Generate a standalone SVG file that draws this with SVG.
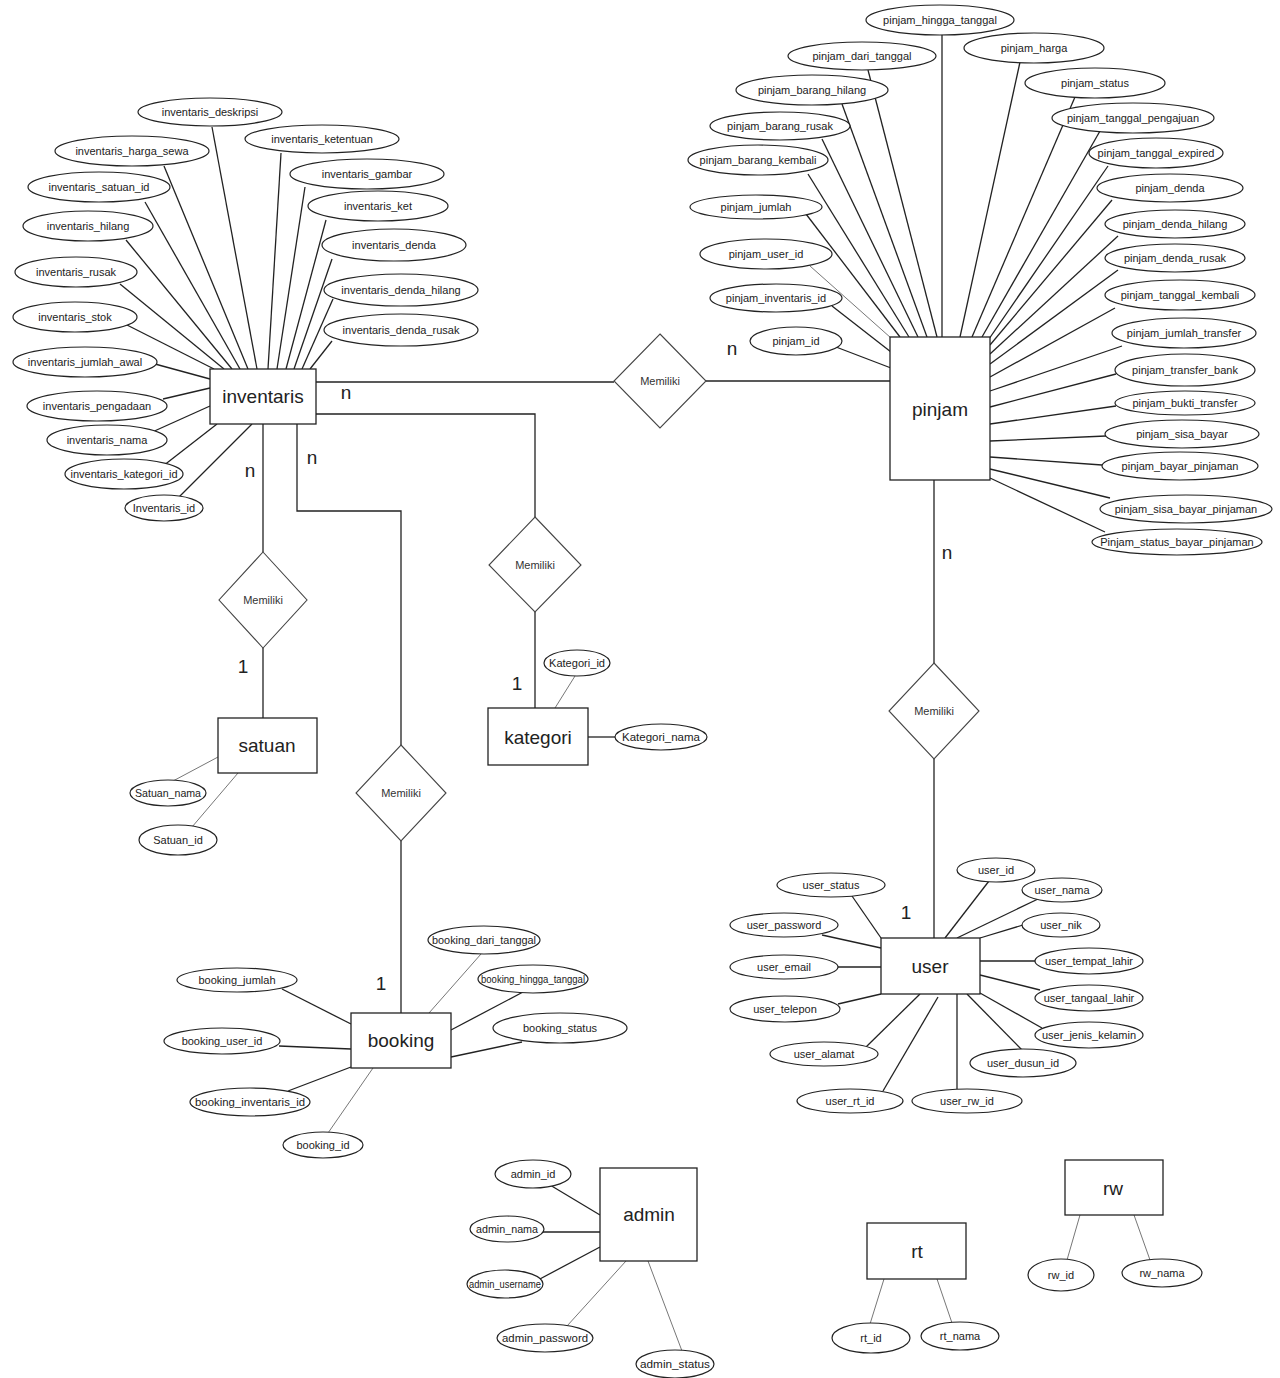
<svg xmlns="http://www.w3.org/2000/svg" width="1280" height="1378" viewBox="0 0 1280 1378">
<style>
  .bg { fill: #ffffff; }
  .conn line, .conn polyline { stroke: #222; stroke-width: 1.3; fill: none; }
  .conn .thin { stroke: #777; stroke-width: 1; }
  .attr ellipse, .node ellipse { fill: #fff; stroke: #222; stroke-width: 1.2; }
  .node rect { fill: #fff; stroke: #222; stroke-width: 1.3; }
  .node polygon { fill: #fff; stroke: #444; stroke-width: 1.1; }
  text { font-family: "Liberation Sans", Arial, sans-serif; fill: #222; text-anchor: middle; dominant-baseline: central; }
  .a { font-size: 11px; }
  .e { font-size: 19px; }
  .r { font-size: 11px; fill: #333; }
  .c { font-size: 19px; }
</style>
<rect class="bg" x="0" y="0" width="1280" height="1378"/>

<g id="connectors" class="conn">
  <!-- relationships -->
  <line x1="316" y1="382" x2="614" y2="382"/>
  <line x1="706" y1="381" x2="890" y2="381"/>
  <polyline points="316,414 535,414 535,517"/>
  <line x1="535" y1="612" x2="535" y2="708"/>
  <line x1="263" y1="424" x2="263" y2="552"/>
  <line x1="263" y1="648" x2="263" y2="718"/>
  <polyline points="297,424 297,511 401,511 401,745"/>
  <line x1="401" y1="841" x2="401" y2="1013"/>
  <line x1="934" y1="480" x2="934" y2="663"/>
  <line x1="934" y1="759" x2="934" y2="938"/>
  <!-- inventaris attributes -->
  <line x1="212" y1="127" x2="257" y2="369"/>
  <line x1="164" y1="166" x2="248" y2="369"/>
  <line x1="145" y1="202" x2="240" y2="369"/>
  <line x1="126" y1="240" x2="232" y2="369"/>
  <line x1="120" y1="284" x2="224" y2="369"/>
  <line x1="127" y1="325" x2="214" y2="369"/>
  <line x1="281" y1="153" x2="268" y2="369"/>
  <line x1="305" y1="187" x2="277" y2="369"/>
  <line x1="326" y1="220" x2="286" y2="369"/>
  <line x1="332" y1="259" x2="294" y2="369"/>
  <line x1="333" y1="299" x2="302" y2="369"/>
  <line x1="332" y1="341" x2="310" y2="369"/>
  <line x1="155" y1="364" x2="210" y2="379"/>
  <line x1="163" y1="399" x2="210" y2="388"/>
  <line x1="150" y1="433" x2="210" y2="406"/>
  <line x1="163" y1="466" x2="217" y2="424"/>
  <line x1="178" y1="498" x2="252" y2="424"/>
  <!-- pinjam attributes -->
  <line x1="942" y1="34" x2="942" y2="337"/>
  <line x1="868" y1="70" x2="937" y2="337"/>
  <line x1="842" y1="104" x2="927" y2="337"/>
  <line x1="822" y1="139" x2="918" y2="337"/>
  <line x1="808" y1="174" x2="909" y2="337"/>
  <line x1="806" y1="214" x2="900" y2="337"/>
  <line class="thin" x1="810" y1="266" x2="891" y2="338"/>
  <line x1="832" y1="306" x2="891" y2="352"/>
  <line x1="836" y1="347" x2="891" y2="368"/>
  <line x1="1020" y1="62" x2="960" y2="337"/>
  <line x1="1075" y1="97" x2="972" y2="337"/>
  <line x1="1100" y1="131" x2="982" y2="337"/>
  <line x1="1108" y1="166" x2="989" y2="339"/>
  <line x1="1112" y1="200" x2="990" y2="345"/>
  <line x1="1118" y1="236" x2="990" y2="354"/>
  <line x1="1118" y1="270" x2="990" y2="364"/>
  <line x1="1115" y1="308" x2="990" y2="377"/>
  <line x1="1122" y1="346" x2="990" y2="391"/>
  <line x1="1116" y1="374" x2="990" y2="407"/>
  <line x1="1116" y1="406" x2="990" y2="424"/>
  <line x1="1106" y1="436" x2="990" y2="441"/>
  <line x1="1102" y1="465" x2="990" y2="457"/>
  <line x1="1110" y1="498" x2="990" y2="469"/>
  <line x1="1105" y1="532" x2="990" y2="478"/>
  <!-- satuan -->
  <line class="thin" x1="173" y1="781" x2="218" y2="757"/>
  <line class="thin" x1="192" y1="827" x2="238" y2="773"/>
  <!-- kategori -->
  <line class="thin" x1="575" y1="676" x2="555" y2="708"/>
  <line x1="588" y1="737" x2="615" y2="737"/>
  <!-- booking -->
  <line class="thin" x1="481" y1="954" x2="429" y2="1013"/>
  <line x1="523" y1="992" x2="451" y2="1030"/>
  <line x1="522" y1="1042" x2="451" y2="1057"/>
  <line x1="282" y1="989" x2="351" y2="1024"/>
  <line x1="279" y1="1046" x2="351" y2="1049"/>
  <line x1="288" y1="1091" x2="351" y2="1067"/>
  <line class="thin" x1="328" y1="1133" x2="373" y2="1068"/>
  <!-- user -->
  <line x1="989" y1="881" x2="945" y2="938"/>
  <line x1="1038" y1="899" x2="957" y2="938"/>
  <line x1="1023" y1="925" x2="980" y2="938"/>
  <line x1="980" y1="961" x2="1036" y2="961"/>
  <line x1="980" y1="975" x2="1040" y2="990"/>
  <line x1="980" y1="993" x2="1042" y2="1028"/>
  <line x1="967" y1="994" x2="1022" y2="1050"/>
  <line x1="957" y1="994" x2="957" y2="1089"/>
  <line x1="938" y1="997" x2="883" y2="1091"/>
  <line x1="920" y1="994" x2="866" y2="1047"/>
  <line x1="881" y1="994" x2="838" y2="1004"/>
  <line x1="837" y1="967" x2="881" y2="967"/>
  <line x1="822" y1="935" x2="881" y2="948"/>
  <line x1="852" y1="896" x2="881" y2="938"/>
  <!-- admin -->
  <line x1="550" y1="1185" x2="600" y2="1215"/>
  <line x1="543" y1="1232" x2="600" y2="1232"/>
  <line x1="538" y1="1280" x2="600" y2="1247"/>
  <line class="thin" x1="567" y1="1326" x2="626" y2="1261"/>
  <line class="thin" x1="682" y1="1351" x2="648" y2="1261"/>
  <!-- rt / rw -->
  <line class="thin" x1="884" y1="1279" x2="870" y2="1324"/>
  <line class="thin" x1="937" y1="1279" x2="952" y2="1323"/>
  <line class="thin" x1="1080" y1="1215" x2="1067" y2="1260"/>
  <line class="thin" x1="1134" y1="1215" x2="1150" y2="1260"/>
</g>

<!-- entities -->
<g id="inventaris" class="node"><rect x="210" y="369" width="106" height="55"/><text class="e" x="263" y="396">inventaris</text></g>
<g id="pinjam" class="node"><rect x="890" y="337" width="100" height="143"/><text class="e" x="940" y="409">pinjam</text></g>
<g id="satuan" class="node"><rect x="218" y="718" width="99" height="55"/><text class="e" x="267" y="745">satuan</text></g>
<g id="kategori" class="node"><rect x="488" y="708" width="100" height="57"/><text class="e" x="538" y="737">kategori</text></g>
<g id="booking" class="node"><rect x="351" y="1013" width="100" height="55"/><text class="e" x="401" y="1040">booking</text></g>
<g id="user" class="node"><rect x="881" y="938" width="99" height="56"/><text class="e" x="930" y="966">user</text></g>
<g id="admin" class="node"><rect x="600" y="1168" width="97" height="93"/><text class="e" x="649" y="1214">admin</text></g>
<g id="rt" class="node"><rect x="867" y="1223" width="99" height="56"/><text class="e" x="917" y="1251">rt</text></g>
<g id="rw" class="node"><rect x="1065" y="1160" width="98" height="55"/><text class="e" x="1113" y="1188">rw</text></g>

<!-- relationships -->
<g id="rel-inventaris-pinjam" class="node"><polygon points="660,334 706,381 660,428 614,381"/><text class="r" x="660" y="381">Memiliki</text></g>
<g id="rel-inventaris-satuan" class="node"><polygon points="263,552 307,600 263,648 219,600"/><text class="r" x="263" y="600">Memiliki</text></g>
<g id="rel-inventaris-kategori" class="node"><polygon points="535,517 581,565 535,612 489,565"/><text class="r" x="535" y="565">Memiliki</text></g>
<g id="rel-inventaris-booking" class="node"><polygon points="401,745 446,793 401,841 356,793"/><text class="r" x="401" y="793">Memiliki</text></g>
<g id="rel-pinjam-user" class="node"><polygon points="934,663 979,711 934,759 889,711"/><text class="r" x="934" y="711">Memiliki</text></g>

<!-- cardinalities -->
<g id="cardinalities">
  <text class="c" x="346" y="392">n</text>
  <text class="c" x="312" y="457">n</text>
  <text class="c" x="250" y="470">n</text>
  <text class="c" x="732" y="348">n</text>
  <text class="c" x="947" y="552">n</text>
  <text class="c" x="243" y="666">1</text>
  <text class="c" x="517" y="683">1</text>
  <text class="c" x="381" y="983">1</text>
  <text class="c" x="906" y="912">1</text>
</g>

<!-- inventaris attributes -->
<g id="attr-inventaris_deskripsi" class="attr"><ellipse cx="210" cy="112" rx="72" ry="14"/><text class="a" x="210" y="112">inventaris_deskripsi</text></g>
<g id="attr-inventaris_ketentuan" class="attr"><ellipse cx="322" cy="139" rx="77" ry="14"/><text class="a" x="322" y="139">inventaris_ketentuan</text></g>
<g id="attr-inventaris_harga_sewa" class="attr"><ellipse cx="132" cy="151" rx="77" ry="15"/><text class="a" x="132" y="151">inventaris_harga_sewa</text></g>
<g id="attr-inventaris_gambar" class="attr"><ellipse cx="367" cy="174" rx="77" ry="15"/><text class="a" x="367" y="174">inventaris_gambar</text></g>
<g id="attr-inventaris_satuan_id" class="attr"><ellipse cx="99" cy="187" rx="71" ry="15"/><text class="a" x="99" y="187">inventaris_satuan_id</text></g>
<g id="attr-inventaris_ket" class="attr"><ellipse cx="378" cy="206" rx="70" ry="15"/><text class="a" x="378" y="206">inventaris_ket</text></g>
<g id="attr-inventaris_hilang" class="attr"><ellipse cx="88" cy="226" rx="65" ry="15"/><text class="a" x="88" y="226">inventaris_hilang</text></g>
<g id="attr-inventaris_denda" class="attr"><ellipse cx="394" cy="245" rx="72" ry="16"/><text class="a" x="394" y="245">inventaris_denda</text></g>
<g id="attr-inventaris_rusak" class="attr"><ellipse cx="76" cy="272" rx="61" ry="15"/><text class="a" x="76" y="272">inventaris_rusak</text></g>
<g id="attr-inventaris_denda_hilang" class="attr"><ellipse cx="401" cy="290" rx="77" ry="16"/><text class="a" x="401" y="290">inventaris_denda_hilang</text></g>
<g id="attr-inventaris_stok" class="attr"><ellipse cx="75" cy="317" rx="62" ry="15"/><text class="a" x="75" y="317">inventaris_stok</text></g>
<g id="attr-inventaris_denda_rusak" class="attr"><ellipse cx="401" cy="330" rx="77" ry="16"/><text class="a" x="401" y="330">inventaris_denda_rusak</text></g>
<g id="attr-inventaris_jumlah_awal" class="attr"><ellipse cx="85" cy="362" rx="72" ry="15"/><text class="a" x="85" y="362">inventaris_jumlah_awal</text></g>
<g id="attr-inventaris_pengadaan" class="attr"><ellipse cx="97" cy="406" rx="70" ry="15"/><text class="a" x="97" y="406">inventaris_pengadaan</text></g>
<g id="attr-inventaris_nama" class="attr"><ellipse cx="107" cy="440" rx="60" ry="15"/><text class="a" x="107" y="440">inventaris_nama</text></g>
<g id="attr-inventaris_kategori_id" class="attr"><ellipse cx="124" cy="474" rx="59" ry="15"/><text class="a" x="124" y="474">inventaris_kategori_id</text></g>
<g id="attr-inventaris_id" class="attr"><ellipse cx="164" cy="508" rx="39" ry="13"/><text class="a" x="164" y="508">Inventaris_id</text></g>

<!-- pinjam attributes -->
<g id="attr-pinjam_hingga_tanggal" class="attr"><ellipse cx="940" cy="20" rx="74" ry="15"/><text class="a" x="940" y="20">pinjam_hingga_tanggal</text></g>
<g id="attr-pinjam_dari_tanggal" class="attr"><ellipse cx="862" cy="56" rx="74" ry="14"/><text class="a" x="862" y="56">pinjam_dari_tanggal</text></g>
<g id="attr-pinjam_harga" class="attr"><ellipse cx="1034" cy="48" rx="70" ry="15"/><text class="a" x="1034" y="48">pinjam_harga</text></g>
<g id="attr-pinjam_barang_hilang" class="attr"><ellipse cx="812" cy="90" rx="76" ry="15"/><text class="a" x="812" y="90">pinjam_barang_hilang</text></g>
<g id="attr-pinjam_status" class="attr"><ellipse cx="1095" cy="83" rx="70" ry="15"/><text class="a" x="1095" y="83">pinjam_status</text></g>
<g id="attr-pinjam_barang_rusak" class="attr"><ellipse cx="780" cy="126" rx="70" ry="14"/><text class="a" x="780" y="126">pinjam_barang_rusak</text></g>
<g id="attr-pinjam_tanggal_pengajuan" class="attr"><ellipse cx="1133" cy="118" rx="81" ry="15"/><text class="a" x="1133" y="118">pinjam_tanggal_pengajuan</text></g>
<g id="attr-pinjam_barang_kembali" class="attr"><ellipse cx="758" cy="160" rx="70" ry="15"/><text class="a" x="758" y="160">pinjam_barang_kembali</text></g>
<g id="attr-pinjam_tanggal_expired" class="attr"><ellipse cx="1156" cy="153" rx="67" ry="15"/><text class="a" x="1156" y="153">pinjam_tanggal_expired</text></g>
<g id="attr-pinjam_denda" class="attr"><ellipse cx="1170" cy="188" rx="73" ry="14"/><text class="a" x="1170" y="188">pinjam_denda</text></g>
<g id="attr-pinjam_jumlah" class="attr"><ellipse cx="756" cy="207" rx="66" ry="12"/><text class="a" x="756" y="207">pinjam_jumlah</text></g>
<g id="attr-pinjam_denda_hilang" class="attr"><ellipse cx="1175" cy="224" rx="70" ry="14"/><text class="a" x="1175" y="224">pinjam_denda_hilang</text></g>
<g id="attr-pinjam_user_id" class="attr"><ellipse cx="766" cy="254" rx="66" ry="15"/><text class="a" x="766" y="254">pinjam_user_id</text></g>
<g id="attr-pinjam_denda_rusak" class="attr"><ellipse cx="1175" cy="258" rx="70" ry="14"/><text class="a" x="1175" y="258">pinjam_denda_rusak</text></g>
<g id="attr-pinjam_inventaris_id" class="attr"><ellipse cx="776" cy="298" rx="66" ry="14"/><text class="a" x="776" y="298">pinjam_inventaris_id</text></g>
<g id="attr-pinjam_tanggal_kembali" class="attr"><ellipse cx="1180" cy="295" rx="75" ry="15"/><text class="a" x="1180" y="295">pinjam_tanggal_kembali</text></g>
<g id="attr-pinjam_id" class="attr"><ellipse cx="796" cy="341" rx="46" ry="14"/><text class="a" x="796" y="341">pinjam_id</text></g>
<g id="attr-pinjam_jumlah_transfer" class="attr"><ellipse cx="1184" cy="333" rx="72" ry="15"/><text class="a" x="1184" y="333">pinjam_jumlah_transfer</text></g>
<g id="attr-pinjam_transfer_bank" class="attr"><ellipse cx="1185" cy="370" rx="70" ry="16"/><text class="a" x="1185" y="370">pinjam_transfer_bank</text></g>
<g id="attr-pinjam_bukti_transfer" class="attr"><ellipse cx="1185" cy="403" rx="70" ry="12"/><text class="a" x="1185" y="403">pinjam_bukti_transfer</text></g>
<g id="attr-pinjam_sisa_bayar" class="attr"><ellipse cx="1182" cy="434" rx="77" ry="14"/><text class="a" x="1182" y="434">pinjam_sisa_bayar</text></g>
<g id="attr-pinjam_bayar_pinjaman" class="attr"><ellipse cx="1180" cy="466" rx="78" ry="14"/><text class="a" x="1180" y="466">pinjam_bayar_pinjaman</text></g>
<g id="attr-pinjam_sisa_bayar_pinjaman" class="attr"><ellipse cx="1186" cy="509" rx="86" ry="14"/><text class="a" x="1186" y="509">pinjam_sisa_bayar_pinjaman</text></g>
<g id="attr-pinjam_status_bayar_pinjaman" class="attr"><ellipse cx="1177" cy="542" rx="85" ry="13"/><text class="a" x="1177" y="542">Pinjam_status_bayar_pinjaman</text></g>

<!-- satuan / kategori attributes -->
<g id="attr-satuan_nama" class="attr"><ellipse cx="168" cy="793" rx="38" ry="13"/><text class="a" x="168" y="793" textLength="66" lengthAdjust="spacingAndGlyphs">Satuan_nama</text></g>
<g id="attr-satuan_id" class="attr"><ellipse cx="178" cy="840" rx="39" ry="15"/><text class="a" x="178" y="840">Satuan_id</text></g>
<g id="attr-kategori_id" class="attr"><ellipse cx="577" cy="663" rx="33" ry="13"/><text class="a" x="577" y="663" textLength="56" lengthAdjust="spacingAndGlyphs">Kategori_id</text></g>
<g id="attr-kategori_nama" class="attr"><ellipse cx="661" cy="737" rx="46" ry="13"/><text class="a" x="661" y="737" textLength="78" lengthAdjust="spacingAndGlyphs">Kategori_nama</text></g>

<!-- booking attributes -->
<g id="attr-booking_dari_tanggal" class="attr"><ellipse cx="484" cy="940" rx="56" ry="14"/><text class="a" x="484" y="940" textLength="104" lengthAdjust="spacingAndGlyphs">booking_dari_tanggal</text></g>
<g id="attr-booking_hingga_tanggal" class="attr"><ellipse cx="533" cy="979" rx="55" ry="14"/><text class="a" x="533" y="979" textLength="104" lengthAdjust="spacingAndGlyphs">booking_hingga_tanggal</text></g>
<g id="attr-booking_status" class="attr"><ellipse cx="560" cy="1028" rx="67" ry="15"/><text class="a" x="560" y="1028">booking_status</text></g>
<g id="attr-booking_jumlah" class="attr"><ellipse cx="237" cy="980" rx="60" ry="12"/><text class="a" x="237" y="980">booking_jumlah</text></g>
<g id="attr-booking_user_id" class="attr"><ellipse cx="222" cy="1041" rx="58" ry="13"/><text class="a" x="222" y="1041">booking_user_id</text></g>
<g id="attr-booking_inventaris_id" class="attr"><ellipse cx="250" cy="1102" rx="60" ry="14"/><text class="a" x="250" y="1102" textLength="110" lengthAdjust="spacingAndGlyphs">booking_inventaris_id</text></g>
<g id="attr-booking_id" class="attr"><ellipse cx="323" cy="1145" rx="40" ry="13"/><text class="a" x="323" y="1145">booking_id</text></g>

<!-- user attributes -->
<g id="attr-user_id" class="attr"><ellipse cx="996" cy="870" rx="39" ry="12"/><text class="a" x="996" y="870">user_id</text></g>
<g id="attr-user_nama" class="attr"><ellipse cx="1062" cy="890" rx="40" ry="12"/><text class="a" x="1062" y="890">user_nama</text></g>
<g id="attr-user_nik" class="attr"><ellipse cx="1061" cy="925" rx="39" ry="12"/><text class="a" x="1061" y="925">user_nik</text></g>
<g id="attr-user_tempat_lahir" class="attr"><ellipse cx="1089" cy="961" rx="54" ry="13"/><text class="a" x="1089" y="961">user_tempat_lahir</text></g>
<g id="attr-user_tangaal_lahir" class="attr"><ellipse cx="1089" cy="998" rx="54" ry="13"/><text class="a" x="1089" y="998">user_tangaal_lahir</text></g>
<g id="attr-user_jenis_kelamin" class="attr"><ellipse cx="1089" cy="1035" rx="54" ry="13"/><text class="a" x="1089" y="1035">user_jenis_kelamin</text></g>
<g id="attr-user_dusun_id" class="attr"><ellipse cx="1023" cy="1063" rx="53" ry="14"/><text class="a" x="1023" y="1063">user_dusun_id</text></g>
<g id="attr-user_rw_id" class="attr"><ellipse cx="967" cy="1101" rx="55" ry="12"/><text class="a" x="967" y="1101">user_rw_id</text></g>
<g id="attr-user_rt_id" class="attr"><ellipse cx="850" cy="1101" rx="53" ry="12"/><text class="a" x="850" y="1101">user_rt_id</text></g>
<g id="attr-user_alamat" class="attr"><ellipse cx="824" cy="1054" rx="54" ry="12"/><text class="a" x="824" y="1054">user_alamat</text></g>
<g id="attr-user_telepon" class="attr"><ellipse cx="785" cy="1009" rx="55" ry="13"/><text class="a" x="785" y="1009">user_telepon</text></g>
<g id="attr-user_email" class="attr"><ellipse cx="784" cy="967" rx="54" ry="12"/><text class="a" x="784" y="967">user_email</text></g>
<g id="attr-user_password" class="attr"><ellipse cx="784" cy="925" rx="54" ry="12"/><text class="a" x="784" y="925">user_password</text></g>
<g id="attr-user_status" class="attr"><ellipse cx="831" cy="885" rx="54" ry="12"/><text class="a" x="831" y="885">user_status</text></g>

<!-- admin attributes -->
<g id="attr-admin_id" class="attr"><ellipse cx="533" cy="1174" rx="38" ry="14"/><text class="a" x="533" y="1174">admin_id</text></g>
<g id="attr-admin_nama" class="attr"><ellipse cx="507" cy="1229" rx="37" ry="13"/><text class="a" x="507" y="1229" textLength="62" lengthAdjust="spacingAndGlyphs">admin_nama</text></g>
<g id="attr-admin_username" class="attr"><ellipse cx="505" cy="1284" rx="38" ry="14"/><text class="a" x="505" y="1284" textLength="72" lengthAdjust="spacingAndGlyphs">admin_username</text></g>
<g id="attr-admin_password" class="attr"><ellipse cx="545" cy="1338" rx="48" ry="14"/><text class="a" x="545" y="1338" textLength="86" lengthAdjust="spacingAndGlyphs">admin_password</text></g>
<g id="attr-admin_status" class="attr"><ellipse cx="675" cy="1364" rx="39" ry="14"/><text class="a" x="675" y="1364" textLength="70" lengthAdjust="spacingAndGlyphs">admin_status</text></g>

<!-- rt / rw attributes -->
<g id="attr-rt_id" class="attr"><ellipse cx="871" cy="1338" rx="39" ry="15"/><text class="a" x="871" y="1338">rt_id</text></g>
<g id="attr-rt_nama" class="attr"><ellipse cx="960" cy="1336" rx="39" ry="14"/><text class="a" x="960" y="1336">rt_nama</text></g>
<g id="attr-rw_id" class="attr"><ellipse cx="1061" cy="1275" rx="33" ry="16"/><text class="a" x="1061" y="1275">rw_id</text></g>
<g id="attr-rw_nama" class="attr"><ellipse cx="1162" cy="1273" rx="40" ry="14"/><text class="a" x="1162" y="1273">rw_nama</text></g>
</svg>
